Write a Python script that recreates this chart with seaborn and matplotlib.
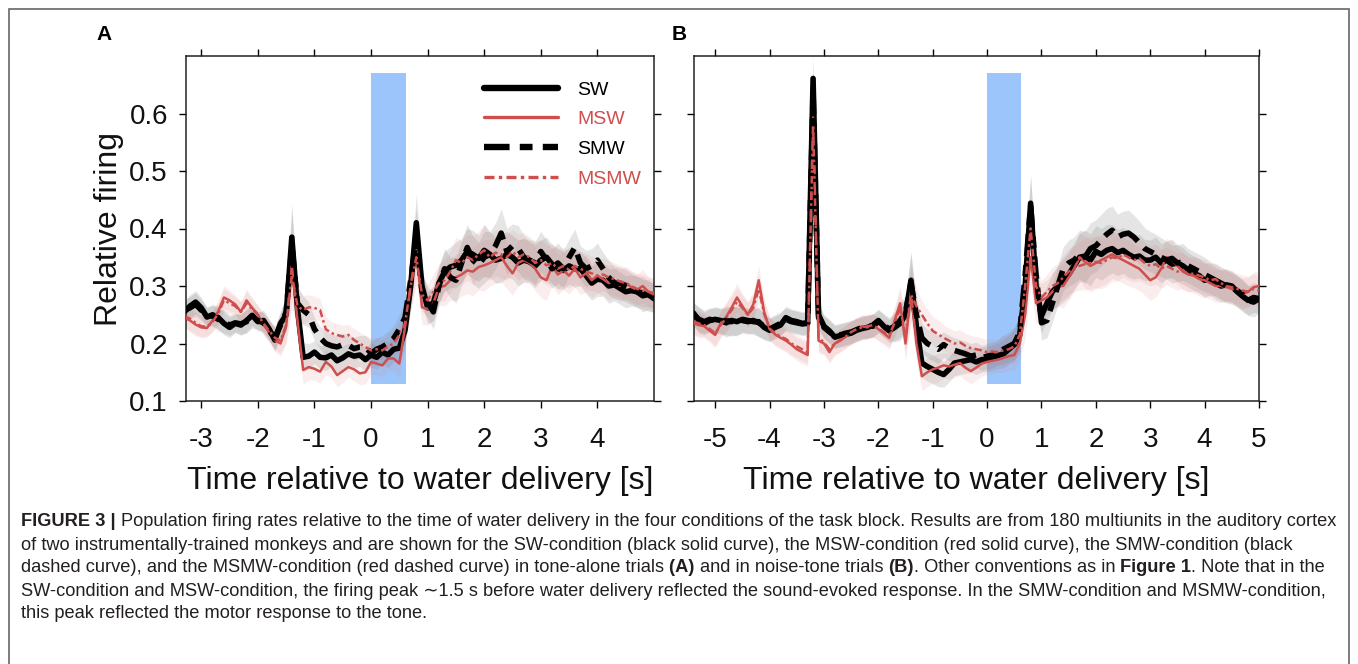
import numpy as np
import pandas as pd
import matplotlib
matplotlib.use("Agg")
import matplotlib.pyplot as plt
import seaborn as sns
from matplotlib import font_manager
from matplotlib.patches import Rectangle
from matplotlib.lines import Line2D

# ---------------- data ----------------
conditions = ["SW", "MSW", "SMW", "MSMW"]

t_A = np.round(np.arange(-3.3, 5.0001, 0.1), 1)
sw_A = [0.255, 0.265, 0.272, 0.262, 0.246, 0.250, 0.245, 0.235, 0.228, 0.235,
        0.232, 0.240, 0.249, 0.238, 0.240, 0.225, 0.206, 0.235, 0.250, 0.385,
        0.260, 0.176, 0.178, 0.185, 0.176, 0.175, 0.180, 0.170, 0.175, 0.182,
        0.178, 0.180, 0.172, 0.180, 0.176, 0.185, 0.180, 0.190, 0.192, 0.223,
        0.300, 0.410, 0.300, 0.262, 0.270, 0.305, 0.325, 0.333, 0.336, 0.345,
        0.360, 0.355, 0.348, 0.362, 0.355, 0.345, 0.348, 0.355, 0.350, 0.340,
        0.345, 0.342, 0.335, 0.345, 0.350, 0.338, 0.330, 0.327, 0.335, 0.330,
        0.330, 0.318, 0.305, 0.312, 0.310, 0.300, 0.302, 0.296, 0.290, 0.292,
        0.290, 0.283, 0.285, 0.278]
msw_A = [0.245, 0.240, 0.233, 0.228, 0.227, 0.240, 0.256, 0.280, 0.275, 0.268,
         0.255, 0.275, 0.262, 0.250, 0.232, 0.220, 0.206, 0.200, 0.230, 0.336,
         0.240, 0.154, 0.159, 0.156, 0.151, 0.168, 0.160, 0.145, 0.152, 0.159,
         0.155, 0.148, 0.150, 0.168, 0.165, 0.162, 0.174, 0.174, 0.165, 0.228,
         0.300, 0.362, 0.263, 0.260, 0.270, 0.298, 0.300, 0.310, 0.315, 0.320,
         0.327, 0.325, 0.333, 0.336, 0.340, 0.345, 0.350, 0.335, 0.322, 0.340,
         0.345, 0.340, 0.330, 0.315, 0.310, 0.335, 0.320, 0.327, 0.318, 0.330,
         0.315, 0.322, 0.310, 0.318, 0.312, 0.305, 0.310, 0.300, 0.305, 0.298,
         0.293, 0.300, 0.290, 0.285]
smw_A = [0.258, 0.262, 0.268, 0.258, 0.248, 0.248, 0.242, 0.238, 0.232, 0.236,
         0.234, 0.238, 0.245, 0.240, 0.236, 0.222, 0.210, 0.232, 0.255, 0.370,
         0.270, 0.258, 0.250, 0.225, 0.210, 0.200, 0.196, 0.194, 0.198, 0.197,
         0.191, 0.194, 0.194, 0.183, 0.190, 0.194, 0.200, 0.209, 0.225, 0.245,
         0.310, 0.385, 0.290, 0.272, 0.255, 0.300, 0.330, 0.315, 0.310, 0.340,
         0.367, 0.345, 0.336, 0.350, 0.355, 0.370, 0.392, 0.360, 0.370, 0.365,
         0.350, 0.345, 0.340, 0.360, 0.345, 0.330, 0.340, 0.330, 0.350, 0.367,
         0.340, 0.330, 0.335, 0.345, 0.330, 0.315, 0.305, 0.305, 0.300, 0.295,
         0.290, 0.288, 0.282, 0.280]
msmw_A = [0.248, 0.243, 0.236, 0.230, 0.229, 0.238, 0.252, 0.275, 0.270, 0.265,
          0.255, 0.270, 0.260, 0.250, 0.235, 0.222, 0.210, 0.205, 0.232, 0.320,
          0.265, 0.258, 0.263, 0.262, 0.258, 0.225, 0.218, 0.215, 0.212, 0.215,
          0.206, 0.200, 0.194, 0.188, 0.190, 0.188, 0.195, 0.200, 0.215, 0.235,
          0.300, 0.350, 0.285, 0.275, 0.290, 0.305, 0.310, 0.325, 0.345, 0.340,
          0.350, 0.345, 0.355, 0.362, 0.350, 0.358, 0.355, 0.350, 0.360, 0.350,
          0.355, 0.350, 0.340, 0.345, 0.336, 0.340, 0.330, 0.335, 0.328, 0.335,
          0.330, 0.325, 0.322, 0.318, 0.320, 0.315, 0.312, 0.308, 0.305, 0.300,
          0.295, 0.292, 0.290, 0.288]
sem_A = [0.018, 0.020, 0.020, 0.018, 0.016, 0.018, 0.020, 0.020, 0.018, 0.016,
         0.018, 0.020, 0.018, 0.016, 0.018, 0.018, 0.020, 0.022, 0.030, 0.060,
         0.030, 0.025, 0.022, 0.020, 0.020, 0.022, 0.020, 0.020, 0.020, 0.018,
         0.020, 0.020, 0.020, 0.022, 0.020, 0.020, 0.022, 0.022, 0.025, 0.030,
         0.040, 0.050, 0.030, 0.028, 0.030, 0.032, 0.035, 0.035, 0.040, 0.038,
         0.040, 0.042, 0.040, 0.045, 0.040, 0.040, 0.042, 0.040, 0.038, 0.040,
         0.038, 0.036, 0.038, 0.035, 0.035, 0.034, 0.035, 0.033, 0.032, 0.032,
         0.030, 0.032, 0.030, 0.030, 0.028, 0.030, 0.028, 0.028, 0.028, 0.027,
         0.027, 0.028, 0.026, 0.025]

t_B = np.round(np.arange(-5.4, 5.0001, 0.1), 1)
sw_B = [0.253, 0.240, 0.235, 0.240, 0.242, 0.240, 0.236, 0.240, 0.238, 0.242,
        0.240, 0.238, 0.238, 0.228, 0.223, 0.228, 0.232, 0.245, 0.240, 0.238,
        0.235, 0.236, 0.661, 0.250, 0.230, 0.222, 0.211, 0.214, 0.216, 0.218,
        0.223, 0.226, 0.228, 0.232, 0.240, 0.230, 0.222, 0.228, 0.235, 0.250,
        0.310, 0.230, 0.166, 0.160, 0.155, 0.150, 0.146, 0.155, 0.166, 0.168,
        0.170, 0.172, 0.168, 0.172, 0.173, 0.176, 0.179, 0.182, 0.190, 0.198,
        0.215, 0.300, 0.444, 0.300, 0.248, 0.270, 0.290, 0.300, 0.310, 0.320,
        0.335, 0.350, 0.352, 0.345, 0.360, 0.355, 0.362, 0.365, 0.358, 0.362,
        0.355, 0.350, 0.352, 0.345, 0.345, 0.350, 0.340, 0.345, 0.338, 0.340,
        0.335, 0.328, 0.322, 0.318, 0.310, 0.312, 0.305, 0.300, 0.302, 0.300,
        0.290, 0.282, 0.275, 0.280, 0.278]
msw_B = [0.235, 0.232, 0.230, 0.222, 0.215, 0.235, 0.246, 0.262, 0.280, 0.265,
         0.250, 0.268, 0.310, 0.255, 0.225, 0.216, 0.210, 0.205, 0.198, 0.190,
         0.185, 0.180, 0.593, 0.205, 0.200, 0.185, 0.200, 0.205, 0.212, 0.220,
         0.225, 0.230, 0.228, 0.232, 0.225, 0.218, 0.210, 0.240, 0.270, 0.200,
         0.290, 0.200, 0.143, 0.150, 0.155, 0.158, 0.162, 0.160, 0.163, 0.166,
         0.158, 0.152, 0.158, 0.165, 0.168, 0.170, 0.172, 0.175, 0.178, 0.180,
         0.200, 0.250, 0.350, 0.270, 0.275, 0.280, 0.290, 0.300, 0.300, 0.315,
         0.330, 0.350, 0.342, 0.335, 0.340, 0.345, 0.350, 0.355, 0.350, 0.345,
         0.340, 0.335, 0.330, 0.320, 0.310, 0.315, 0.330, 0.350, 0.345, 0.335,
         0.325, 0.320, 0.318, 0.312, 0.310, 0.305, 0.300, 0.300, 0.298, 0.295,
         0.290, 0.286, 0.290, 0.298, 0.300]
smw_B = [0.250, 0.242, 0.238, 0.242, 0.240, 0.238, 0.240, 0.238, 0.240, 0.240,
         0.238, 0.240, 0.236, 0.230, 0.225, 0.230, 0.235, 0.242, 0.238, 0.236,
         0.234, 0.235, 0.640, 0.245, 0.228, 0.220, 0.213, 0.215, 0.218, 0.220,
         0.224, 0.228, 0.230, 0.230, 0.238, 0.232, 0.225, 0.230, 0.240, 0.255,
         0.305, 0.250, 0.210, 0.200, 0.195, 0.190, 0.198, 0.192, 0.188, 0.185,
         0.182, 0.178, 0.180, 0.175, 0.178, 0.180, 0.185, 0.190, 0.195, 0.200,
         0.220, 0.320, 0.440, 0.320, 0.236, 0.240, 0.270, 0.300, 0.330, 0.340,
         0.345, 0.355, 0.350, 0.365, 0.370, 0.380, 0.390, 0.397, 0.385, 0.390,
         0.392, 0.385, 0.375, 0.365, 0.360, 0.355, 0.350, 0.345, 0.348, 0.340,
         0.342, 0.335, 0.330, 0.325, 0.320, 0.315, 0.310, 0.305, 0.300, 0.296,
         0.292, 0.285, 0.275, 0.272, 0.278]
msmw_B = [0.238, 0.235, 0.232, 0.225, 0.218, 0.232, 0.244, 0.258, 0.272, 0.262,
          0.250, 0.262, 0.295, 0.252, 0.226, 0.218, 0.212, 0.208, 0.200, 0.195,
          0.190, 0.185, 0.580, 0.210, 0.202, 0.190, 0.200, 0.206, 0.212, 0.220,
          0.225, 0.228, 0.230, 0.232, 0.226, 0.220, 0.214, 0.236, 0.262, 0.215,
          0.285, 0.265, 0.250, 0.235, 0.222, 0.216, 0.210, 0.205, 0.200, 0.202,
          0.196, 0.192, 0.190, 0.188, 0.185, 0.186, 0.185, 0.188, 0.190, 0.195,
          0.215, 0.300, 0.400, 0.300, 0.280, 0.290, 0.300, 0.305, 0.315, 0.325,
          0.330, 0.335, 0.338, 0.340, 0.342, 0.340, 0.345, 0.350, 0.348, 0.355,
          0.350, 0.345, 0.348, 0.340, 0.335, 0.338, 0.330, 0.335, 0.330, 0.325,
          0.328, 0.320, 0.322, 0.318, 0.315, 0.310, 0.312, 0.305, 0.300, 0.298,
          0.295, 0.292, 0.290, 0.295, 0.292]
sem_B = [0.020, 0.022, 0.020, 0.020, 0.022, 0.022, 0.025, 0.025, 0.025, 0.022,
         0.022, 0.022, 0.025, 0.022, 0.020, 0.020, 0.020, 0.020, 0.020, 0.020,
         0.020, 0.020, 0.040, 0.022, 0.020, 0.020, 0.020, 0.020, 0.020, 0.020,
         0.020, 0.020, 0.020, 0.020, 0.020, 0.020, 0.020, 0.025, 0.030, 0.030,
         0.050, 0.030, 0.025, 0.025, 0.025, 0.025, 0.022, 0.022, 0.022, 0.022,
         0.022, 0.022, 0.022, 0.022, 0.022, 0.022, 0.022, 0.025, 0.025, 0.028,
         0.030, 0.040, 0.050, 0.035, 0.030, 0.030, 0.032, 0.035, 0.038, 0.040,
         0.040, 0.042, 0.045, 0.045, 0.045, 0.045, 0.045, 0.042, 0.040, 0.040,
         0.040, 0.038, 0.038, 0.036, 0.035, 0.035, 0.034, 0.033, 0.033, 0.032,
         0.032, 0.030, 0.030, 0.030, 0.030, 0.028, 0.028, 0.028, 0.028, 0.027,
         0.027, 0.027, 0.026, 0.026, 0.025]

water_onset = 0.0
water_duration = 0.62
water_bar_bottom = 0.13
water_bar_top = 0.67

xticks_A = [-3, -2, -1, 0, 1, 2, 3, 4]
xticks_B = [-5, -4, -3, -2, -1, 0, 1, 2, 3, 4, 5]
yticks = [0.1, 0.2, 0.3, 0.4, 0.5, 0.6]

caption_lines = [
    [("FIGURE 3 | ", True),
     ("Population firing rates relative to the time of water delivery in the four conditions of the task block. Results are from 180 multiunits in the auditory cortex", False)],
    [("of two instrumentally-trained monkeys and are shown for the SW-condition (black solid curve), the MSW-condition (red solid curve), the SMW-condition (black", False)],
    [("dashed curve), and the MSMW-condition (red dashed curve) in tone-alone trials ", False),
     ("(A) ", True), ("and in noise-tone trials ", False), ("(B)", True),
     (". Other conventions as in ", False), ("Figure 1", True), (". Note that in the", False)],
    [("SW-condition and MSW-condition, the firing peak \u223c1.5 s before water delivery reflected the sound-evoked response. In the SMW-condition and MSMW-condition,", False)],
    [("this peak reflected the motor response to the tone.", False)],
]

# ---------------- style ----------------
sns.set_theme(style="white")
names = {f.name for f in font_manager.fontManager.ttflist}
narrow = "Liberation Sans Narrow" if "Liberation Sans Narrow" in names else "Liberation Sans"
plt.rcParams["font.family"] = [narrow, "DejaVu Sans"]
plt.rcParams["axes.unicode_minus"] = False

W, H = 1358, 664
RED = "#cf4f4f"
BLUE = "#9cc6fb"
styles = {
    "SW": dict(color="black", lw=4.0, ls="-"),
    "MSW": dict(color=RED, lw=1.8, ls="-"),
    "SMW": dict(color="black", lw=4.0, ls=(0, (4.0, 1.6, 2.0, 1.6))),
    "MSMW": dict(color=RED, lw=1.8, ls=(0, (3.0, 1.3, 1.0, 1.3))),
}
band_style = {"black": ("#808080", 0.20), RED: ("#e07a7a", 0.13)}

fig = plt.figure(figsize=(W / 100, H / 100), dpi=100)
fig.patch.set_facecolor("white")
axA = fig.add_axes([186 / W, 1 - 401 / H, 468 / W, 345 / H])
axB = fig.add_axes([694 / W, 1 - 401 / H, 565 / W, 345 / H])


def draw_panel(ax, t, series, sem, xlim, xticks, show_ylabels):
    ax.bar(water_onset, water_bar_top - water_bar_bottom, bottom=water_bar_bottom,
           width=water_duration, align="edge", color=BLUE, linewidth=0, zorder=1)
    sem = np.asarray(sem)
    for name in conditions:
        y = np.asarray(series[name])
        c, a = band_style[styles[name]["color"]]
        ax.fill_between(t, y - sem, y + sem, color=c, alpha=a, lw=0, zorder=2)
    for name in conditions:
        st = styles[name]
        df = pd.DataFrame({"t": t, "v": series[name]})
        sns.lineplot(data=df, x="t", y="v", ax=ax, color=st["color"], lw=st["lw"],
                     linestyle=st["ls"], zorder=3, legend=False)
    ax.set_xlim(*xlim)
    ax.set_ylim(0.1, 0.7)
    ax.set_xticks(xticks)
    ax.set_xticklabels([str(v) for v in xticks])
    ax.set_yticks(yticks)
    ax.set_yticklabels([f"{v:.1f}" for v in yticks])
    ax.tick_params(axis="both", which="both", direction="out", length=5, width=1.0,
                   color="black", top=True, right=True, bottom=True, left=True,
                   labeltop=False, labelright=False, labelleft=show_ylabels,
                   labelsize=20, labelcolor="#111111")
    ax.tick_params(axis="x", pad=14)
    ax.tick_params(axis="y", pad=8)
    for sp in ax.spines.values():
        sp.set_visible(True)
        sp.set_color("#222222")
        sp.set_linewidth(1.1)
    ax.set_facecolor("white")
    ax.grid(False)
    ax.set_xlabel("Time relative to water delivery [s]", fontsize=23, labelpad=9, color="#111111")
    if show_ylabels:
        ax.set_ylabel("Relative firing", fontsize=23, labelpad=4, color="#111111")
    else:
        ax.set_ylabel("")


draw_panel(axA, t_A, {"SW": sw_A, "MSW": msw_A, "SMW": smw_A, "MSMW": msmw_A},
           sem_A, (-3.27, 5.0), xticks_A, True)
draw_panel(axB, t_B, {"SW": sw_B, "MSW": msw_B, "SMW": smw_B, "MSMW": msmw_B},
           sem_B, (-5.39, 5.0), xticks_B, False)

# legend in panel A
handles = [Line2D([], [], color=styles[n]["color"], lw=styles[n]["lw"] + 0.6,
                  linestyle=styles[n]["ls"]) for n in conditions]
leg = axA.legend(handles, conditions, loc="upper left",
                 bbox_to_anchor=((484 - 186) / 468, (401 - 81) / 345),
                 frameon=False, handlelength=3.8, handletextpad=1.0,
                 labelspacing=0.62, borderaxespad=0, borderpad=0,
                 prop={"family": ["Liberation Sans", "DejaVu Sans"], "size": 14})
for txt, n in zip(leg.get_texts(), conditions):
    txt.set_color(styles[n]["color"])

# panel letters
for lab, xp in (("A", 104), ("B", 679)):
    fig.text(xp / W, 1 - 35 / H, lab, fontsize=15, fontweight="bold", ha="center",
             va="center", family=["Liberation Sans", "DejaVu Sans"], color="black")

# outer frame
fig.add_artist(Rectangle((9 / W, -6 / H), (1349 - 9) / W, (664 - 9 + 6) / H,
                         transform=fig.transFigure, fill=False, edgecolor="#666666",
                         lw=1.2))

# caption
renderer = fig.canvas.get_renderer()
cap_family = [narrow, "DejaVu Sans"]


def text_width(s, size, bold):
    t1 = fig.text(0, 0, s + ".", fontsize=size, fontweight="bold" if bold else "normal",
                  family=cap_family)
    t2 = fig.text(0, 0, ".", fontsize=size, fontweight="bold" if bold else "normal",
                  family=cap_family)
    w = t1.get_window_extent(renderer).width - t2.get_window_extent(renderer).width
    t1.remove()
    t2.remove()
    return w


ref_size = 12.0
w0 = sum(text_width(s, ref_size, b) for s, b in caption_lines[0])
cap_size = ref_size * (1318.0 / w0)

for i, segs in enumerate(caption_lines):
    x = 21.0
    y = 522 + 23 * i
    for s, b in segs:
        fig.text(x / W, 1 - y / H, s, fontsize=cap_size,
                 fontweight="bold" if b else "normal", ha="left", va="center",
                 family=cap_family, color="#231f20")
        x += text_width(s, cap_size, b)

fig.savefig("out.png", dpi=100, facecolor="white")
